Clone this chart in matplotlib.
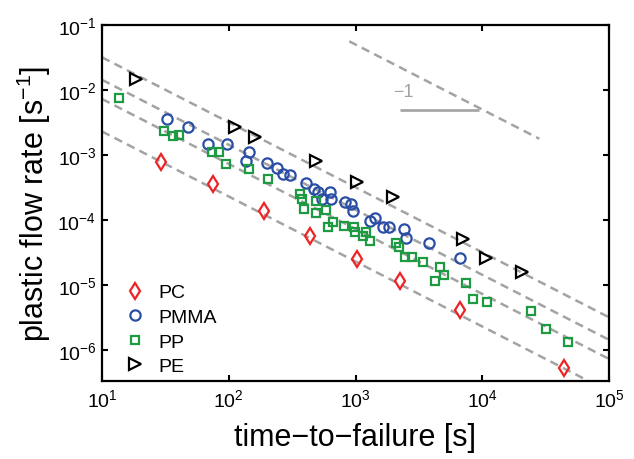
import matplotlib
matplotlib.use("Agg")
import matplotlib.pyplot as plt
from matplotlib.ticker import LogLocator, NullLocator
import numpy as np

plt.rcParams['font.family'] = ['Liberation Sans', 'DejaVu Sans']
plt.rcParams['mathtext.fontset'] = 'custom'
plt.rcParams['mathtext.rm'] = 'Liberation Sans'
plt.rcParams['mathtext.it'] = 'Liberation Sans:italic'
plt.rcParams['mathtext.bf'] = 'Liberation Sans:bold'
plt.rcParams['mathtext.default'] = 'regular'

# time-to-failure [s] and plastic flow rate [1/s]
pc_t = [29.4, 75.5, 188.7, 437.5, 1021, 2244, 6714, 44160]
pc_rate = [7.73e-4, 3.52e-4, 1.375e-4, 5.73e-5, 2.55e-5, 1.164e-5, 4.08e-6, 5.23e-7]

pmma_t = [32.4, 48.0, 68.6, 96.9, 144.5, 137.6, 200.4, 239, 269.5, 307,
          409, 470.6, 508.7, 544, 623.6, 640.8, 826.5, 916.6, 960.7, 1292,
          1425, 1648, 1831, 2401, 2494, 3821, 6676]
pmma_rate = [3.62e-3, 2.70e-3, 1.487e-3, 1.487e-3, 1.100e-3, 8.09e-4, 7.53e-4, 6.20e-4, 5.19e-4, 5.01e-4,
             3.77e-4, 3.05e-4, 2.70e-4, 2.14e-4, 2.65e-4, 2.14e-4, 1.873e-4, 1.763e-4, 1.376e-4, 9.65e-5,
             1.081e-4, 7.72e-5, 7.72e-5, 7.27e-5, 5.23e-5, 4.46e-5, 2.63e-5]

pp_t = [13.69, 30.85, 36.13, 40.65, 73.8, 83.8, 95.6, 143.7, 205.1, 361.6,
        376.3, 392.4, 483.6, 490.6, 579.9, 610.2, 668.3, 807.1, 973.2, 991.1,
        1140, 1210, 1309, 2099, 2216, 2436, 2792, 3390, 4600, 5012,
        4240, 7444, 8409, 10960, 24120, 31670, 47230]
pp_rate = [7.61e-3, 2.34e-3, 1.946e-3, 2.009e-3, 1.100e-3, 1.100e-3, 7.35e-4, 6.09e-4, 4.27e-4, 2.51e-4,
           2.14e-4, 1.476e-4, 1.960e-4, 1.281e-4, 1.450e-4, 7.72e-5, 9.22e-5, 8.09e-5, 7.80e-5, 6.47e-5,
           5.61e-5, 6.47e-5, 4.80e-5, 4.35e-5, 3.80e-5, 2.65e-5, 2.65e-5, 2.28e-5, 1.891e-5, 1.425e-5,
           1.132e-5, 1.066e-5, 6.03e-6, 5.57e-6, 4.02e-6, 2.10e-6, 1.341e-6]

pe_t = [18.4, 112.6, 160.6, 488, 1037, 1959, 7047, 10770, 20660]
pe_rate = [1.476e-2, 2.72e-3, 1.89e-3, 8.17e-4, 3.80e-4, 2.28e-4, 5.15e-5, 2.63e-5, 1.61e-5]

# guide lines rate = c / t
guide_c = [0.3184, 0.1435, 0.0728, 0.0230]
slope_c = 50.1
slope_t = [893, 28180]

gray = '#a3a3a3'

fig = plt.figure(figsize=(6.34, 4.6), dpi=100)
ax = fig.add_axes([102/634, 1-382/460, 507/634, 356/460])

tt = np.array([10, 1e5])
for c in guide_c:
    ax.plot(tt, c/tt, color=gray, lw=1.8, dashes=(3.4, 2.2), zorder=1)
st = np.array(slope_t, dtype=float)
ax.plot(st, slope_c/st, color=gray, lw=1.8, dashes=(3.4, 2.2), zorder=1)
ax.plot([2245, 9500], [4.98e-3, 4.98e-3], color=gray, lw=1.9, solid_capstyle='butt', zorder=1)
ax.text(2371, 9.4e-3, '\u22121', color=gray, fontsize=13, ha='center', va='center')

mew = 1.6
ax.plot(pc_t, pc_rate, 'd', ls='none', mfc='none', mec='#ee2222', mew=mew, ms=7.8, label='PC')
ax.plot(pmma_t, pmma_rate, 'o', ls='none', mfc='none', mec='#2a4ea6', mew=mew, ms=7.4, label='PMMA')
ax.plot(pp_t, pp_rate, 's', ls='none', mfc='none', mec='#1e9a43', mew=mew, ms=6.0, label='PP')
ax.plot(pe_t, pe_rate, '>', ls='none', mfc='none', mec='black', mew=mew, ms=8, label='PE')

ax.set_xscale('log')
ax.set_yscale('log')
ax.set_xlim(10, 1e5)
ax.set_ylim(10**-6.477, 1e-1)
ax.xaxis.set_major_locator(LogLocator(base=10, numticks=10))
ax.yaxis.set_major_locator(LogLocator(base=10, numticks=10))
ax.xaxis.set_minor_locator(NullLocator())
ax.yaxis.set_minor_locator(NullLocator())
ax.tick_params(which='major', direction='in', length=4, width=1.5,
               top=True, right=True, labelsize=14)
ax.tick_params(axis='x', pad=5)
ax.tick_params(axis='y', pad=4)
for s in ax.spines.values():
    s.set_linewidth(1.6)

ax.set_xlabel('time\u2212to\u2212failure [s]', fontsize=22, labelpad=9)
ax.set_ylabel('plastic flow rate [s$^{\\mathregular{-1}}$]', fontsize=22, labelpad=3)

ax.legend(loc='lower left', bbox_to_anchor=(0.012, -0.033), frameon=False, fontsize=14,
          handlelength=1.0, handletextpad=0.7, labelspacing=0.36, borderpad=0.4, numpoints=1)

fig.savefig('out.png', dpi=100)
